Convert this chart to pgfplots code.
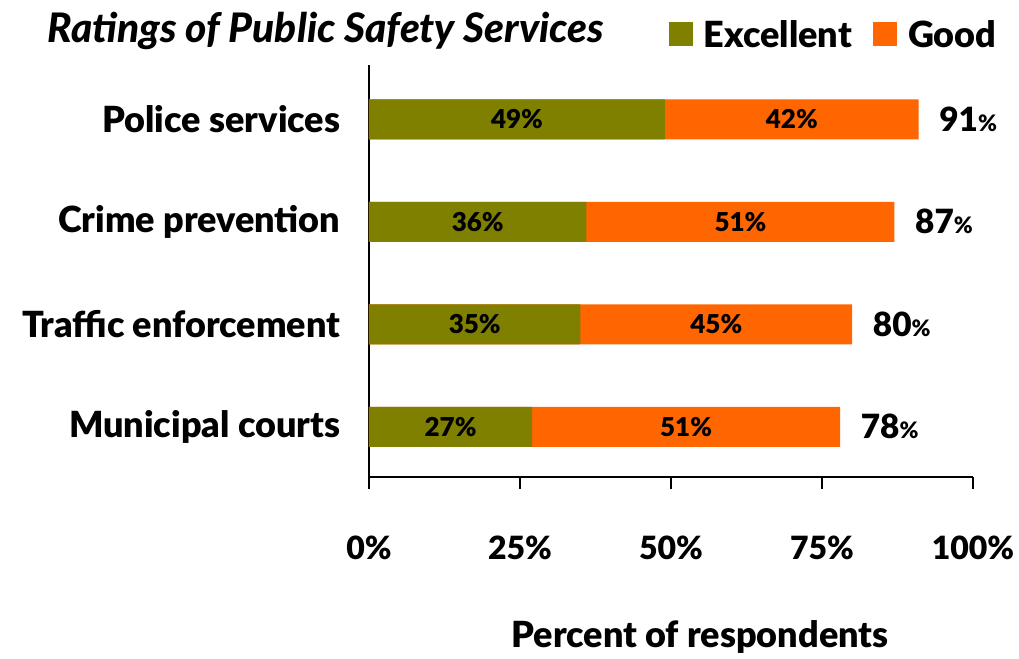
\documentclass[border=0pt]{standalone}
\usepackage{pgfplots}
\pgfplotsset{compat=1.18}
\usepackage{fontspec}
\setmainfont{Lato}[BoldFont={Lato Black}, BoldItalicFont={Lato Black Italic}]
\definecolor{olivec}{HTML}{808000}
\definecolor{orangec}{HTML}{FF6600}
\begin{document}
\begin{tikzpicture}
\useasboundingbox (-276.75pt,-136.5pt) rectangle (487.5pt,357.75pt);
\begin{axis}[
  scale only axis,
  width=453pt, height=309pt,
  xmin=0, xmax=100,
  ymin=-0.49, ymax=3.53,
  axis x line*=bottom, axis y line*=left,
  axis line style={line width=1pt, -},
  xtick={0,25,50,75,100},
  xticklabel={\pgfmathprintnumber[assume math mode=true]{\tick}\%},
  xticklabel style={font=\bfseries\fontsize{24}{26}\selectfont, yshift=-32pt},
  x tick style={line width=1pt, black},
  major tick length=9pt,
  tick align=outside,
  ytick={0,1,2,3},
  yticklabels={Municipal courts, Traffic enforcement, Crime prevention, Police services},
  yticklabel style={font=\bfseries\fontsize{27}{30}\selectfont, xshift=-9pt},
  y tick style={draw=none},
  xlabel={Percent of respondents},
  xlabel style={font=\bfseries\fontsize{27}{30}\selectfont, at={(axis description cs:0.548,-0.388)}, anchor=center},
  title={\textit{Ratings of Public Safety Services}},
  title style={font=\bfseries\fontsize{30.5}{33}\selectfont, at={(axis description cs:-0.54,1.063)}, anchor=west},
  legend style={draw=none, fill=none, at={(axis description cs:0.49,1.073)}, anchor=west,
    font=\bfseries\fontsize{27}{30}\selectfont, legend columns=2,
    /tikz/every odd column/.append style={column sep=6pt},
    /tikz/every even column/.append style={column sep=14pt}},
  legend image code/.code={\fill[#1] (0pt,-8.5pt) rectangle (18pt,9.5pt);},
  clip=false,
]
\addlegendimage{fill=olivec, draw=none}
\addlegendentry{Excellent}
\addlegendimage{fill=orangec, draw=none}
\addlegendentry{Good}
% Good segment drawn as full total bar, Excellent overlaid from zero
\addplot[forget plot, xbar, bar width=30pt, bar shift=0pt, fill=orangec, draw=none]
  coordinates {(78,0) (80,1) (87,2) (91,3)};
\addplot[forget plot, xbar, bar width=30pt, bar shift=0pt, fill=olivec, draw=none]
  coordinates {(27,0) (35,1) (36,2) (49,3)};
% segment labels
\addplot[forget plot, only marks, mark=none, point meta=explicit,
  nodes near coords={\pgfmathprintnumber[assume math mode=true]{\pgfplotspointmeta}\%},
  every node near coord/.append style={anchor=center, font=\bfseries\fontsize{19.5}{21}\selectfont, black}]
  table[meta=v] {
x y v
13.5 0 27
52.5 0 51
17.5 1 35
57.5 1 45
18 2 36
61.5 2 51
24.5 3 49
70 3 42
};
% totals
\addplot[forget plot, only marks, mark=none, point meta=explicit,
  nodes near coords={\pgfmathprintnumber[assume math mode=true]{\pgfplotspointmeta}{\fontsize{17}{18}\selectfont\%}},
  every node near coord/.append style={anchor=west, xshift=12pt, font=\bfseries\fontsize{25}{27}\selectfont, black}]
  table[meta=v] {
x y v
78 0 78
80 1 80
87 2 87
91 3 91
};
\end{axis}
\end{tikzpicture}
\end{document}
